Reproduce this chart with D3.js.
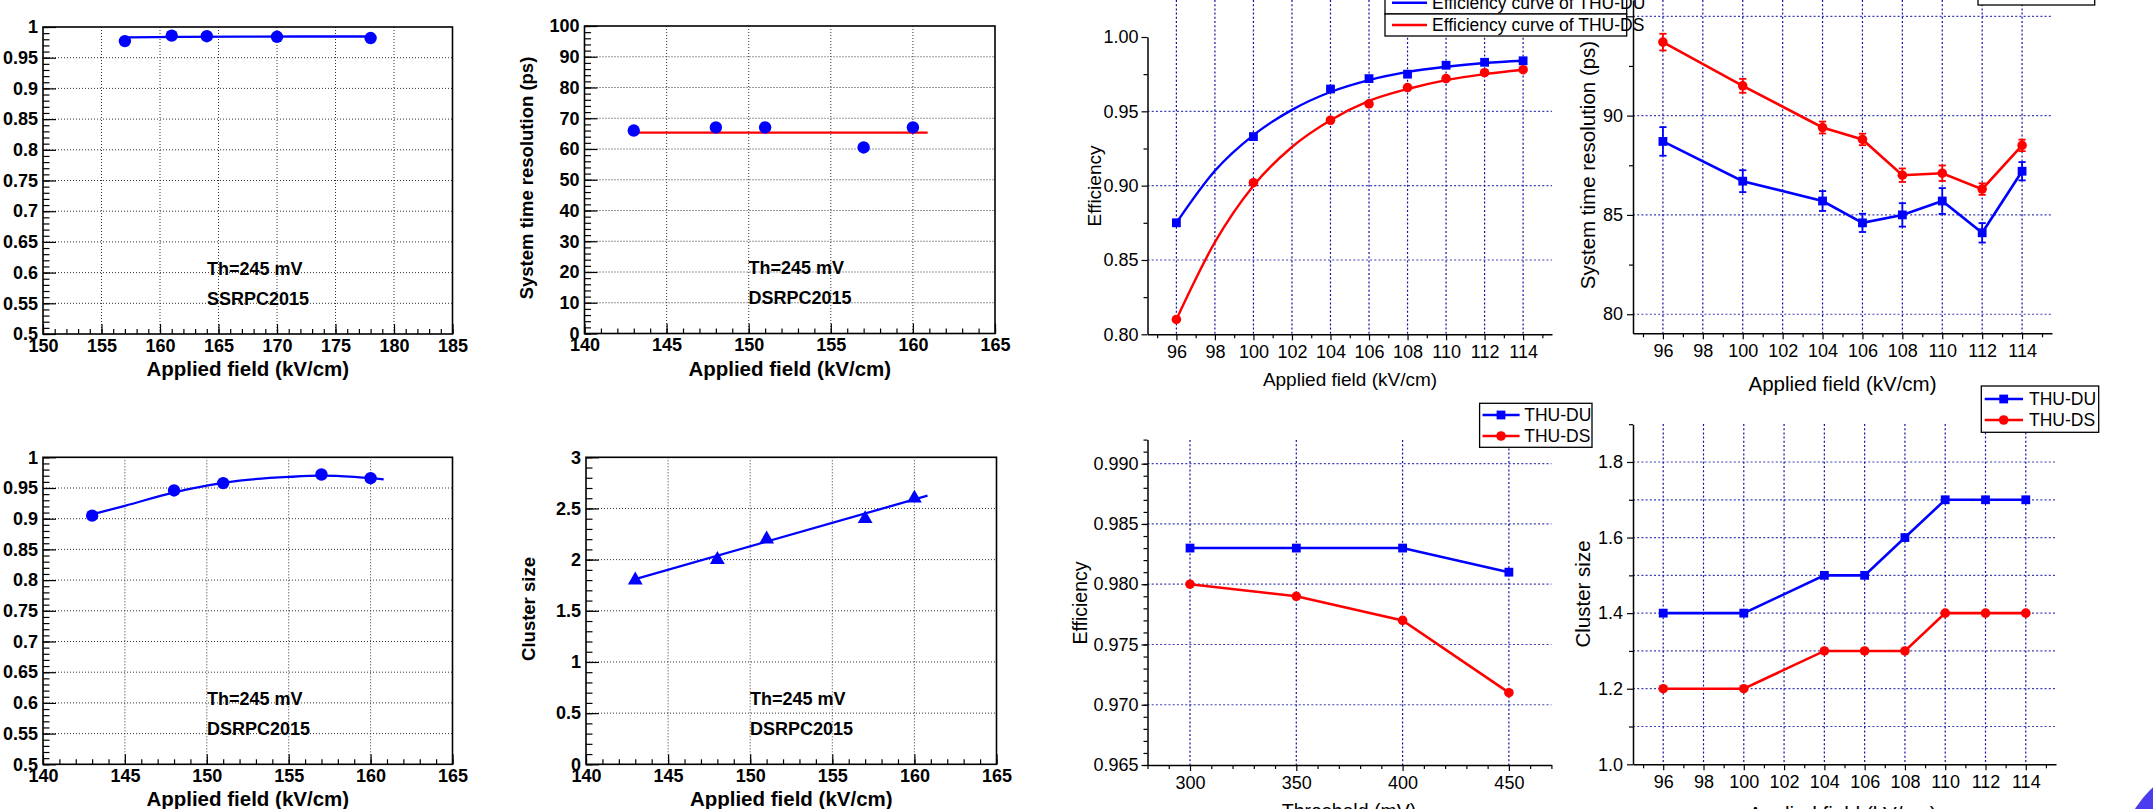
<!DOCTYPE html>
<html>
<head>
<meta charset="utf-8">
<script src="https://cdn.jsdelivr.net/npm/d3@7"></script>
<style>
  body { margin: 0; background: #fff; }
  svg { display: block; }
</style>
</head>
<body>
<script>
// ---------- data ----------
// SSRPC2015: efficiency vs applied field (kV/cm)
var ssField = [157, 161, 164, 170, 178];
var ssEff = [0.977, 0.986, 0.985, 0.984, 0.982];
var ssEffFitX = [157, 162, 167, 172, 178];
var ssEffFit = [0.9832, 0.9838, 0.9842, 0.9845, 0.9845];

// DSRPC2015
var dsField = [143, 148, 151, 157, 160];
var dsTime = [66, 67, 67, 60.5, 67];
var dsTimeFitX = [143, 160.9];
var dsTimeFit = [65.3, 65.3];
var dsEff = [0.905, 0.946, 0.958, 0.972, 0.966];
var dsEffFitX = [143, 145, 148, 150, 152, 155, 157, 159, 160.8];
var dsEffFit = [0.907, 0.921, 0.943, 0.954, 0.962, 0.968, 0.970, 0.968, 0.964];
var dsCluster = [1.8, 2.0, 2.2, 2.4, 2.6];
var dsClusterFitX = [143, 160.8];
var dsClusterFit = [1.81, 2.625];

// THU-DU / THU-DS
var thuField = [96, 100, 104, 106, 108, 110, 112, 114];
var thuDuEff = [0.875, 0.933, 0.965, 0.972, 0.975, 0.981, 0.983, 0.984];
var thuDsEff = [0.810, 0.902, 0.944, 0.955, 0.966, 0.972, 0.976, 0.978];
var thuCurveX = [96, 98, 100, 102, 104, 106, 108, 110, 112, 114];
var thuDuCurve = [0.875, 0.910, 0.934, 0.951, 0.963, 0.971, 0.9765, 0.980, 0.9825, 0.984];
var thuDsCurve = [0.810, 0.862, 0.900, 0.926, 0.944, 0.957, 0.965, 0.971, 0.975, 0.978];
var thuDuTime = [88.7, 86.7, 85.7, 84.6, 85.0, 85.7, 84.1, 87.2];
var thuDuTimeErr = [0.72, 0.55, 0.50, 0.46, 0.59, 0.65, 0.49, 0.46];
var thuDsTime = [93.7, 91.5, 89.4, 88.8, 87.0, 87.1, 86.3, 88.5];
var thuDsTimeErr = [0.42, 0.35, 0.30, 0.29, 0.34, 0.39, 0.29, 0.29];
var threshold = [300, 350, 400, 450];
var thuDuEffTh = [0.983, 0.983, 0.983, 0.981];
var thuDsEffTh = [0.980, 0.979, 0.977, 0.971];
var thuDuCluster = [1.4, 1.4, 1.5, 1.5, 1.6, 1.7, 1.7, 1.7];
var thuDsCluster = [1.2, 1.2, 1.3, 1.3, 1.3, 1.4, 1.4, 1.4];

// ---------- drawing ----------
var FONT = "'Liberation Sans', Arial, Helvetica, sans-serif";
var BLUE = "#0000ff", RED = "#ff0000", GRID = "#1010a0";

var svg = d3.select("body").append("svg")
  .attr("width", 2153).attr("height", 809)
  .style("font-family", FONT);

function steps(a, b, s) {
  var n = Math.round((b - a) / s);
  return d3.range(n + 1).map(function (i) { return +(a + i * s).toFixed(6); });
}
var fmt = d3.format(".3~f");

function styleAxis(sel, size, weight, keepDomain) {
  if (keepDomain) sel.select(".domain").attr("stroke", "#000").attr("stroke-width", 1.5);
  else sel.select(".domain").remove();
  sel.selectAll(".tick line").attr("stroke", "#000").attr("stroke-width", 1.2);
  sel.selectAll(".tick text").attr("fill", "#000")
    .style("font-size", size + "px").style("font-weight", weight).style("font-family", FONT);
}

function vTitle(g, txt, cx, cy, size, weight) {
  g.append("text").attr("transform", "translate(" + cx + "," + cy + ") rotate(-90)")
    .attr("text-anchor", "middle").attr("dy", "0.35em")
    .style("font-size", size + "px").style("font-weight", weight).text(txt);
}

// ROOT style panels (bold text, dotted black grid, inward ticks)
function rootPanel(p) {
  var bottom = p.top + p.height, right = p.left + p.width;
  var x = d3.scaleLinear().domain(p.xDomain).range([p.left, right]);
  var y = d3.scaleLinear().domain(p.yDomain).range([bottom, p.top]);
  var g = svg.append("g");
  var xMaj = steps(p.xDomain[0], p.xDomain[1], p.xMajor);
  var yMaj = steps(p.yDomain[0], p.yDomain[1], p.yMajor);

  g.append("g").selectAll("line").data(xMaj.slice(1, -1)).join("line")
    .attr("x1", function (d) { return x(d); }).attr("x2", function (d) { return x(d); })
    .attr("y1", p.top).attr("y2", bottom)
    .attr("stroke", "#333").attr("stroke-dasharray", "1,2");
  g.append("g").selectAll("line").data(yMaj.slice(1, -1)).join("line")
    .attr("x1", p.left).attr("x2", right)
    .attr("y1", function (d) { return y(d); }).attr("y2", function (d) { return y(d); })
    .attr("stroke", "#333").attr("stroke-dasharray", "1,2");

  g.append("g").attr("transform", "translate(0," + bottom + ")")
    .call(d3.axisBottom(x).tickValues(steps(p.xDomain[0], p.xDomain[1], p.xMinor))
      .tickSizeInner(-5).tickSizeOuter(0).tickFormat(""))
    .call(styleAxis, 18, "bold");
  g.append("g").attr("transform", "translate(0," + bottom + ")")
    .call(d3.axisBottom(x).tickValues(xMaj).tickSizeInner(-10).tickSizeOuter(0)
      .tickPadding(5).tickFormat(d3.format("d")))
    .call(styleAxis, 18, "bold");
  g.append("g").attr("transform", "translate(" + p.left + ",0)")
    .call(d3.axisLeft(y).tickValues(steps(p.yDomain[0], p.yDomain[1], p.yMinor))
      .tickSizeInner(-6.5).tickSizeOuter(0).tickFormat(""))
    .call(styleAxis, 18, "bold");
  g.append("g").attr("transform", "translate(" + p.left + ",0)")
    .call(d3.axisLeft(y).tickValues(yMaj).tickSizeInner(-13).tickSizeOuter(0)
      .tickPadding(5).tickFormat(fmt))
    .call(styleAxis, 18, "bold");

  g.append("rect").attr("x", p.left).attr("y", p.top)
    .attr("width", p.width).attr("height", p.height)
    .attr("fill", "none").attr("stroke", "#000").attr("stroke-width", 1.6);

  g.append("text").attr("x", (p.left + right) / 2).attr("y", bottom + 42)
    .attr("text-anchor", "middle").style("font-size", "20.5px").style("font-weight", "bold")
    .text("Applied field (kV/cm)");
  if (p.yTitle) vTitle(g, p.yTitle, p.yTitlePos[0], p.yTitlePos[1], 18.5, "bold");

  p.notes.forEach(function (t, i) {
    g.append("text").attr("x", p.left + 164).attr("y", p.top + 248 + i * 29.5)
      .style("font-size", "18px").style("font-weight", "bold").text(t);
  });

  var line = d3.line().x(function (d) { return x(d[0]); }).y(function (d) { return y(d[1]); })
    .curve(d3.curveMonotoneX);
  g.append("path").datum(d3.zip(p.fitX, p.fitY)).attr("d", line)
    .attr("fill", "none").attr("stroke", p.fitColor).attr("stroke-width", 2.3);

  var pts = d3.zip(p.xs, p.ys);
  if (p.marker === "triangle") {
    g.selectAll(".m").data(pts).join("path")
      .attr("transform", function (d) { return "translate(" + x(d[0]) + "," + y(d[1]) + ")"; })
      .attr("d", d3.symbol().type(d3.symbolTriangle).size(95)).attr("fill", BLUE);
  } else {
    g.selectAll(".m").data(pts).join("circle")
      .attr("cx", function (d) { return x(d[0]); }).attr("cy", function (d) { return y(d[1]); })
      .attr("r", 6.2).attr("fill", BLUE);
  }
}

// Origin style panels (regular text, blue dotted grid, outward ticks, open top/right)
function originPanel(p) {
  var x = d3.scaleLinear().domain(p.xDomain).range(p.xRange);
  var y = d3.scaleLinear().domain(p.yDomain).range(p.yRange);
  var left = p.xRange[0], right = p.xRange[1], bottom = p.yRange[0];
  var g = svg.append("g");

  g.append("g").selectAll("line").data(p.gridX).join("line")
    .attr("x1", function (d) { return x(d); }).attr("x2", function (d) { return x(d); })
    .attr("y1", p.gridTop).attr("y2", bottom)
    .attr("stroke", GRID).attr("stroke-width", 1.2).attr("stroke-dasharray", "2,2.2");
  g.append("g").selectAll("line").data(p.gridY).join("line")
    .attr("x1", left).attr("x2", right)
    .attr("y1", function (d) { return y(d); }).attr("y2", function (d) { return y(d); })
    .attr("stroke", GRID).attr("stroke-width", 1.2).attr("stroke-dasharray", "2,2.2")
    .attr("opacity", 0.8);

  g.append("g").attr("transform", "translate(0," + bottom + ")")
    .call(d3.axisBottom(x).tickValues(p.xMinor).tickSizeInner(4).tickSizeOuter(0).tickFormat(""))
    .call(styleAxis, 18, "normal");
  g.append("g").attr("transform", "translate(0," + bottom + ")")
    .call(d3.axisBottom(x).tickValues(p.xMajor).tickSizeInner(6).tickSizeOuter(0)
      .tickPadding(5).tickFormat(d3.format("d")))
    .call(styleAxis, 18, "normal", true);
  g.append("g").attr("transform", "translate(" + left + ",0)")
    .call(d3.axisLeft(y).tickValues(p.yMinor).tickSizeInner(4).tickSizeOuter(0).tickFormat(""))
    .call(styleAxis, 18, "normal");
  g.append("g").attr("transform", "translate(" + left + ",0)")
    .call(d3.axisLeft(y).tickValues(p.yMajor).tickSizeInner(6).tickSizeOuter(0)
      .tickPadding(p.yPad).tickFormat(p.yFormat))
    .call(styleAxis, 18, "normal", true);

  g.append("text").attr("x", p.xTitlePos[0]).attr("y", p.xTitlePos[1])
    .attr("text-anchor", "middle").style("font-size", p.titleSize + "px").text(p.xTitle);
  vTitle(g, p.yTitle, p.yTitlePos[0], p.yTitlePos[1], p.titleSize, "normal");

  var line = d3.line().x(function (d) { return x(d[0]); }).y(function (d) { return y(d[1]); });
  p.series.forEach(function (s) {
    if (s.curveX) {
      g.append("path").datum(d3.zip(s.curveX, s.curveY))
        .attr("d", line.curve(d3.curveMonotoneX))
        .attr("fill", "none").attr("stroke", s.color).attr("stroke-width", 2.4);
    } else {
      g.append("path").datum(d3.zip(s.xs, s.ys))
        .attr("d", line.curve(d3.curveLinear))
        .attr("fill", "none").attr("stroke", s.color).attr("stroke-width", 2.6);
    }
    var pts = d3.zip(s.xs, s.ys, s.err || s.xs.map(function () { return 0; }));
    if (s.err) {
      var eb = g.append("g").attr("stroke", s.color).attr("stroke-width", 1.8);
      pts.forEach(function (d) {
        var cx = x(d[0]), y0 = y(d[1] - d[2]), y1 = y(d[1] + d[2]);
        eb.append("line").attr("x1", cx).attr("x2", cx).attr("y1", y0).attr("y2", y1);
        eb.append("line").attr("x1", cx - 3.6).attr("x2", cx + 3.6).attr("y1", y0).attr("y2", y0);
        eb.append("line").attr("x1", cx - 3.6).attr("x2", cx + 3.6).attr("y1", y1).attr("y2", y1);
      });
    }
    drawMarkers(g, pts.map(function (d) { return [x(d[0]), y(d[1])]; }), s.marker, s.color);
  });
}

function drawMarkers(g, xy, marker, color) {
  if (marker === "square") {
    g.append("g").selectAll("rect").data(xy).join("rect")
      .attr("x", function (d) { return d[0] - 4.4; }).attr("y", function (d) { return d[1] - 4.4; })
      .attr("width", 8.8).attr("height", 8.8).attr("fill", color);
  } else {
    g.append("g").selectAll("circle").data(xy).join("circle")
      .attr("cx", function (d) { return d[0]; }).attr("cy", function (d) { return d[1]; })
      .attr("r", 4.8).attr("fill", color);
  }
}

function legend(box, rows, lineX, markerX, textX) {
  var g = svg.append("g");
  box.forEach(function (b) {
    g.append("rect").attr("x", b[0]).attr("y", b[1]).attr("width", b[2]).attr("height", b[3])
      .attr("fill", "#fff").attr("stroke", "#000").attr("stroke-width", 1.3);
  });
  rows.forEach(function (r) {
    g.append("line").attr("x1", lineX[0]).attr("x2", lineX[1]).attr("y1", r.y).attr("y2", r.y)
      .attr("stroke", r.color).attr("stroke-width", 2.6);
    if (r.marker) drawMarkers(g, [[markerX, r.y]], r.marker, r.color);
    g.append("text").attr("x", textX).attr("y", r.y).attr("dy", "0.36em")
      .style("font-size", "17.5px").text(r.label);
  });
}

// ---- ROOT panels ----
rootPanel({ left: 43, top: 27, width: 409.5, height: 307, xDomain: [150, 185], yDomain: [0.5, 1],
  xMajor: 5, xMinor: 1, yMajor: 0.05, yMinor: 0.01,
  notes: ["Th=245 mV", "SSRPC2015"], xs: ssField, ys: ssEff, marker: "circle",
  fitX: ssEffFitX, fitY: ssEffFit, fitColor: BLUE });

rootPanel({ left: 584.5, top: 26, width: 410.5, height: 307.5, xDomain: [140, 165], yDomain: [0, 100],
  xMajor: 5, xMinor: 1, yMajor: 10, yMinor: 2,
  yTitle: "System time resolution (ps)", yTitlePos: [527, 178],
  notes: ["Th=245 mV", "DSRPC2015"], xs: dsField, ys: dsTime, marker: "circle",
  fitX: dsTimeFitX, fitY: dsTimeFit, fitColor: RED });

rootPanel({ left: 43, top: 457.3, width: 409.5, height: 307, xDomain: [140, 165], yDomain: [0.5, 1],
  xMajor: 5, xMinor: 1, yMajor: 0.05, yMinor: 0.01,
  notes: ["Th=245 mV", "DSRPC2015"], xs: dsField, ys: dsEff, marker: "circle",
  fitX: dsEffFitX, fitY: dsEffFit, fitColor: BLUE });

rootPanel({ left: 586, top: 457.3, width: 410.5, height: 307, xDomain: [140, 165], yDomain: [0, 3],
  xMajor: 5, xMinor: 1, yMajor: 0.5, yMinor: 0.1,
  yTitle: "Cluster size", yTitlePos: [529, 609],
  notes: ["Th=245 mV", "DSRPC2015"], xs: dsField, ys: dsCluster, marker: "triangle",
  fitX: dsClusterFitX, fitY: dsClusterFit, fitColor: BLUE });

// ---- Origin panels ----
var fieldMajor = steps(96, 114, 2);
var fieldMinor = steps(95, 115, 1).filter(function (v) { return v % 2 !== 0; });

originPanel({ xDomain: [94.5, 115.5], xRange: [1147.5, 1552], yDomain: [0.8, 1.0], yRange: [334.3, 37],
  gridTop: 0, gridX: fieldMajor, gridY: [0.85, 0.9, 0.95],
  xMajor: fieldMajor, xMinor: fieldMinor,
  yMajor: steps(0.8, 1.0, 0.05), yMinor: [0.825, 0.875, 0.925, 0.975], yFormat: d3.format(".2f"), yPad: 3,
  xTitle: "Applied field (kV/cm)", xTitlePos: [1350, 386], yTitle: "Efficiency", yTitlePos: [1094, 186],
  titleSize: 19,
  series: [
    { xs: thuField, ys: thuDuEff, curveX: thuCurveX, curveY: thuDuCurve, color: BLUE, marker: "square" },
    { xs: thuField, ys: thuDsEff, curveX: thuCurveX, curveY: thuDsCurve, color: RED, marker: "circle" }
  ] });

originPanel({ xDomain: [94.5, 115.5], xRange: [1633, 2052], yDomain: [79.04, 95.82], yRange: [333.3, 0],
  gridTop: 0, gridX: fieldMajor, gridY: [80, 85, 90, 95],
  xMajor: fieldMajor, xMinor: fieldMinor,
  yMajor: [80, 85, 90, 95], yMinor: [82.5, 87.5, 92.5], yFormat: d3.format("d"), yPad: 4,
  xTitle: "Applied field (kV/cm)", xTitlePos: [1842.5, 391],
  yTitle: "System time resolution (ps)", yTitlePos: [1588, 165], titleSize: 20.5,
  series: [
    { xs: thuField, ys: thuDsTime, err: thuDsTimeErr, color: RED, marker: "circle" },
    { xs: thuField, ys: thuDuTime, err: thuDuTimeErr, color: BLUE, marker: "square" }
  ] });

originPanel({ xDomain: [280, 470], xRange: [1147.5, 1551.4], yDomain: [0.965, 0.992], yRange: [765, 439.6],
  gridTop: 440, gridX: threshold, gridY: steps(0.97, 0.99, 0.005),
  xMajor: threshold, xMinor: steps(280, 470, 10).filter(function (v) { return v % 50 !== 0; }),
  yMajor: steps(0.965, 0.99, 0.005), yMinor: steps(0.965, 0.992, 0.001), yFormat: d3.format(".3f"), yPad: 3,
  xTitle: "Threshold (mV)", xTitlePos: [1349, 818], yTitle: "Efficiency", yTitlePos: [1080, 603],
  titleSize: 19.5,
  series: [
    { xs: threshold, ys: thuDuEffTh, color: BLUE, marker: "square" },
    { xs: threshold, ys: thuDsEffTh, color: RED, marker: "circle" }
  ] });

originPanel({ xDomain: [94.5, 115.5], xRange: [1633, 2056], yDomain: [1.0, 1.9], yRange: [764.3, 424.2],
  gridTop: 424, gridX: fieldMajor, gridY: steps(1.1, 1.8, 0.1),
  xMajor: fieldMajor, xMinor: fieldMinor,
  yMajor: steps(1.0, 1.8, 0.2), yMinor: steps(1.1, 1.9, 0.2), yFormat: d3.format(".1f"), yPad: 4,
  xTitle: "Applied field (kV/cm)", xTitlePos: [1842.5, 821], yTitle: "Cluster size", yTitlePos: [1583, 594],
  titleSize: 20.5,
  series: [
    { xs: thuField, ys: thuDuCluster, color: BLUE, marker: "square" },
    { xs: thuField, ys: thuDsCluster, color: RED, marker: "circle" }
  ] });

// ---- legends ----
legend([[1385, -12, 241.7, 26], [1385, 14, 241.7, 22]],
  [{ y: 2.7, color: BLUE, label: "Efficiency curve of THU-DU" },
   { y: 25, color: RED, label: "Efficiency curve of THU-DS" }],
  [1392, 1427], 0, 1432);
legend([[1978, -30, 116.7, 35]], [], [0, 0], 0, 0);
legend([[1479.6, 403.3, 112.4, 44]],
  [{ y: 415, color: BLUE, marker: "square", label: "THU-DU" },
   { y: 436, color: RED, marker: "circle", label: "THU-DS" }],
  [1482.5, 1519.6], 1501, 1524.3);
legend([[1981.3, 386, 117.4, 46.3]],
  [{ y: 399, color: BLUE, marker: "square", label: "THU-DU" },
   { y: 420, color: RED, marker: "circle", label: "THU-DS" }],
  [1984.7, 2023], 2003.7, 2029);

// corner decoration at the bottom right
svg.append("circle").attr("cx", 2230).attr("cy", 870).attr("r", 113).attr("fill", "#4b3cf0");
</script>
</body>
</html>
